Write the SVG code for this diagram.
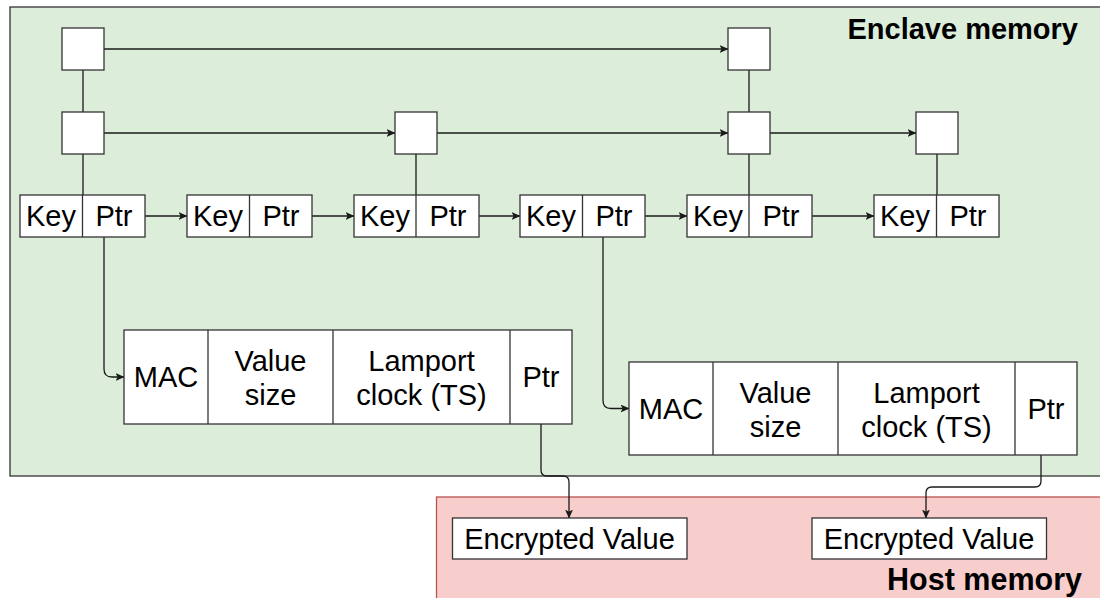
<svg xmlns="http://www.w3.org/2000/svg" width="1100" height="598" viewBox="0 0 1100 598">
  <defs>
    <style>
      .cell { fill: #ffffff; stroke: #333333; stroke-width: 1.3; }
      .sep { stroke: #333333; stroke-width: 1.3; fill: none; }
      .link { stroke: #1a1a1a; stroke-width: 1.3; fill: none; }
      .t { font-family: "Liberation Sans", Arial, Helvetica, sans-serif; font-size: 29px; fill: #000000; text-anchor: middle; }
      .title { font-family: "Liberation Sans", Arial, Helvetica, sans-serif; font-size: 29px; font-weight: bold; fill: #000000; text-anchor: end; }
    </style>
    <marker id="arrow" viewBox="0 0 9 8" markerWidth="9" markerHeight="8" refX="8.5" refY="4" orient="auto" markerUnits="userSpaceOnUse">
      <path d="M0,0 L9,4 L0,8 L2.2,4 Z" fill="#1a1a1a"/>
    </marker>
  </defs>

  <!-- memory regions -->
  <g id="enclave-memory">
    <rect x="10" y="7" width="1100" height="469" fill="#dceeda" stroke="#333333" stroke-width="1.3"/>
    <text class="title" x="1078" y="39">Enclave memory</text>
  </g>
  <g id="host-memory">
    <rect x="436.5" y="497" width="680" height="120" fill="#f8cecc" stroke="#b85450" stroke-width="1.3"/>
    <text class="title" x="1082" y="590" style="font-size:30.5px">Host memory</text>
  </g>

  <!-- connectors -->
  <g id="connectors">
    <!-- index level 2 -->
    <line class="link" x1="104" y1="49" x2="728" y2="49" marker-end="url(#arrow)"/>
    <!-- index level 1 -->
    <line class="link" x1="104" y1="133" x2="395" y2="133" marker-end="url(#arrow)"/>
    <line class="link" x1="437" y1="133" x2="728" y2="133" marker-end="url(#arrow)"/>
    <line class="link" x1="770" y1="133" x2="916" y2="133" marker-end="url(#arrow)"/>
    <!-- vertical tower links -->
    <line class="link" x1="83" y1="70" x2="83" y2="112"/>
    <line class="link" x1="83" y1="154" x2="83" y2="195"/>
    <line class="link" x1="416" y1="154" x2="416" y2="195"/>
    <line class="link" x1="749" y1="70" x2="749" y2="112"/>
    <line class="link" x1="749" y1="154" x2="749" y2="195"/>
    <line class="link" x1="937" y1="154" x2="937" y2="195"/>
    <!-- bottom list -->
    <line class="link" x1="145" y1="216" x2="187" y2="216" marker-end="url(#arrow)"/>
    <line class="link" x1="312" y1="216" x2="354" y2="216" marker-end="url(#arrow)"/>
    <line class="link" x1="479" y1="216" x2="520" y2="216" marker-end="url(#arrow)"/>
    <line class="link" x1="645" y1="216" x2="687" y2="216" marker-end="url(#arrow)"/>
    <line class="link" x1="812" y1="216" x2="874" y2="216" marker-end="url(#arrow)"/>
    <!-- pointers to value headers -->
    <path class="link" d="M104,237 V369 Q104,377 112,377 H124" marker-end="url(#arrow)"/>
    <path class="link" d="M603,237 V400.5 Q603,408.5 611,408.5 H629" marker-end="url(#arrow)"/>
    <!-- pointers to encrypted values -->
    <path class="link" d="M541,424 V470 Q541,476 547,476 H563 Q569,476 569,482 V518" marker-end="url(#arrow)"/>
    <path class="link" d="M1041,455 V481 Q1041,487 1035,487 H932 Q926,487 926,493 V518" marker-end="url(#arrow)"/>
  </g>

  <!-- skip-list index nodes -->
  <g id="idx-2-a"><rect class="cell" x="62" y="28" width="42" height="42"/></g>
  <g id="idx-2-b"><rect class="cell" x="728" y="28" width="42" height="42"/></g>
  <g id="idx-1-a"><rect class="cell" x="62" y="112" width="42" height="42"/></g>
  <g id="idx-1-b"><rect class="cell" x="395" y="112" width="42" height="42"/></g>
  <g id="idx-1-c"><rect class="cell" x="728" y="112" width="42" height="42"/></g>
  <g id="idx-1-d"><rect class="cell" x="916" y="112" width="42" height="42"/></g>

  <!-- key/pointer list nodes -->
  <g id="node-1">
    <rect class="cell" x="20" y="195" width="125" height="42"/>
    <line class="sep" x1="82.5" y1="195" x2="82.5" y2="237"/>
    <text class="t" x="51" y="226">Key</text>
    <text class="t" x="114" y="226">Ptr</text>
  </g>
  <g id="node-2">
    <rect class="cell" x="187" y="195" width="125" height="42"/>
    <line class="sep" x1="249.5" y1="195" x2="249.5" y2="237"/>
    <text class="t" x="218" y="226">Key</text>
    <text class="t" x="281" y="226">Ptr</text>
  </g>
  <g id="node-3">
    <rect class="cell" x="354" y="195" width="125" height="42"/>
    <line class="sep" x1="416" y1="195" x2="416" y2="237"/>
    <text class="t" x="385" y="226">Key</text>
    <text class="t" x="448" y="226">Ptr</text>
  </g>
  <g id="node-4">
    <rect class="cell" x="520" y="195" width="125" height="42"/>
    <line class="sep" x1="582.5" y1="195" x2="582.5" y2="237"/>
    <text class="t" x="551" y="226">Key</text>
    <text class="t" x="614" y="226">Ptr</text>
  </g>
  <g id="node-5">
    <rect class="cell" x="687" y="195" width="125" height="42"/>
    <line class="sep" x1="749" y1="195" x2="749" y2="237"/>
    <text class="t" x="718" y="226">Key</text>
    <text class="t" x="781" y="226">Ptr</text>
  </g>
  <g id="node-6">
    <rect class="cell" x="874" y="195" width="125" height="42"/>
    <line class="sep" x1="936.5" y1="195" x2="936.5" y2="237"/>
    <text class="t" x="905" y="226">Key</text>
    <text class="t" x="968" y="226">Ptr</text>
  </g>

  <!-- value headers -->
  <g id="value-header-1">
    <rect class="cell" x="124" y="330" width="448" height="94"/>
    <line class="sep" x1="208" y1="330" x2="208" y2="424"/>
    <line class="sep" x1="333" y1="330" x2="333" y2="424"/>
    <line class="sep" x1="510" y1="330" x2="510" y2="424"/>
    <text class="t" x="166" y="387">MAC</text>
    <text class="t" x="270.5" y="371">Value</text>
    <text class="t" x="270.5" y="405">size</text>
    <text class="t" x="421.5" y="371">Lamport</text>
    <text class="t" x="421.5" y="405">clock (TS)</text>
    <text class="t" x="541" y="387">Ptr</text>
  </g>
  <g id="value-header-2">
    <rect class="cell" x="629" y="362" width="448" height="93"/>
    <line class="sep" x1="713" y1="362" x2="713" y2="455"/>
    <line class="sep" x1="838" y1="362" x2="838" y2="455"/>
    <line class="sep" x1="1015" y1="362" x2="1015" y2="455"/>
    <text class="t" x="671" y="418.5">MAC</text>
    <text class="t" x="775.5" y="402.5">Value</text>
    <text class="t" x="775.5" y="436.5">size</text>
    <text class="t" x="926.5" y="402.5">Lamport</text>
    <text class="t" x="926.5" y="436.5">clock (TS)</text>
    <text class="t" x="1046" y="418.5">Ptr</text>
  </g>

  <!-- encrypted values in host memory -->
  <g id="encrypted-value-1">
    <rect class="cell" x="452.5" y="518" width="234.5" height="41"/>
    <text class="t" x="569.5" y="549">Encrypted Value</text>
  </g>
  <g id="encrypted-value-2">
    <rect class="cell" x="812" y="518" width="234.5" height="41"/>
    <text class="t" x="929" y="549">Encrypted Value</text>
  </g>
</svg>
